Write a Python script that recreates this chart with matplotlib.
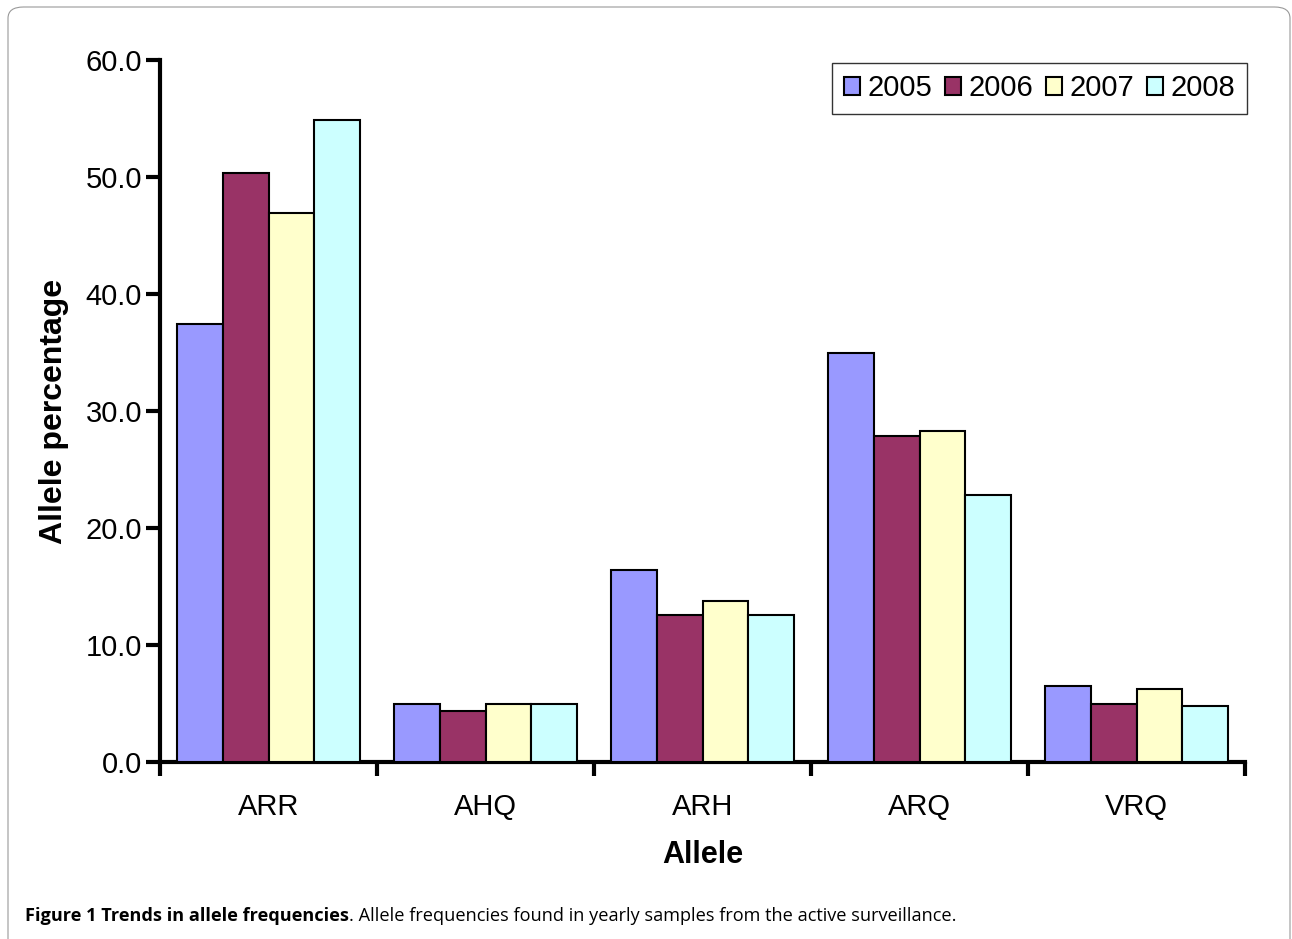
import numpy as np
import matplotlib.pyplot as plt
from matplotlib.patches import FancyBboxPatch

alleles = ['ARR', 'AHQ', 'ARH', 'ARQ', 'VRQ']
years = ['2005', '2006', '2007', '2008']
v2005 = [37.4, 5.0, 16.4, 35.0, 6.5]
v2006 = [50.3, 4.4, 12.6, 27.9, 5.0]
v2007 = [46.9, 5.0, 13.8, 28.3, 6.2]
v2008 = [54.9, 5.0, 12.6, 22.8, 4.8]
colors = ['#9999FF', '#993366', '#FFFFCC', '#CCFFFF']

plt.rcParams['font.family'] = ['Liberation Sans', 'DejaVu Sans']

fig = plt.figure(figsize=(12.92, 9.39), dpi=100)

# light rounded frame around the figure
frame = FancyBboxPatch((8 / 1292, -0.05), 1282 / 1292, 1 - 7 / 939 + 0.05,
                       boxstyle='round,pad=0,rounding_size=0.012',
                       transform=fig.transFigure, fill=False,
                       edgecolor='#999999', linewidth=0.8)
fig.patches.append(frame)

ax = fig.add_axes([160 / 1292, 1 - 762 / 939, 1085 / 1292, 702 / 939])

x = np.arange(len(alleles))
w = 0.21
series = [v2005, v2006, v2007, v2008]
for i, (vals, c, yr) in enumerate(zip(series, colors, years)):
    ax.bar(x + (i - 1.5) * w, vals, w, color=c, edgecolor='black',
           linewidth=1.5, label=yr, zorder=3)

ax.set_xlim(-0.5, len(alleles) - 0.5)
ax.set_ylim(0, 60)
ax.set_yticks(np.arange(0, 61, 10))
ax.set_yticklabels([f'{t:.1f}' for t in np.arange(0, 61, 10)])
ax.set_xticks(x)
ax.set_xticklabels(alleles)
ax.set_xticks(np.arange(-0.5, len(alleles)), minor=True)
ax.tick_params(axis='x', which='major', length=0, labelsize=21, pad=22)
ax.tick_params(axis='x', which='minor', length=10, width=3, direction='out')
ax.tick_params(axis='y', which='major', length=10, width=3, labelsize=21, pad=3)

for s in ['top', 'right']:
    ax.spines[s].set_visible(False)
for s in ['left', 'bottom']:
    ax.spines[s].set_linewidth(3)

ax.set_ylabel('Allele percentage', fontsize=23, fontweight='bold', labelpad=12)
ax.set_xlabel('Allele', fontsize=22, fontweight='bold', labelpad=14)

leg = ax.legend(loc='upper right', ncol=4, fontsize=21, frameon=True,
                fancybox=False, edgecolor='black', handlelength=0.55,
                handleheight=0.55, handletextpad=0.25, columnspacing=0.45,
                borderpad=0.4, borderaxespad=0, bbox_to_anchor=(1.002, 0.996))
leg.get_frame().set_linewidth(1.0)

t1 = fig.text(25 / 1292, 1 - 916 / 939, 'Figure 1 Trends in allele frequencies',
              fontsize=13.1, fontweight='bold', family=['Open Sans', 'DejaVu Sans'],
              va='center')
fig.canvas.draw()
bb = t1.get_window_extent()
fig.text(bb.x1 / 1292, 1 - 916 / 939,
         '. Allele frequencies found in yearly samples from the active surveillance.',
         fontsize=13.1, family=['Open Sans', 'DejaVu Sans'], va='center')

fig.savefig('out.png', dpi=100)
